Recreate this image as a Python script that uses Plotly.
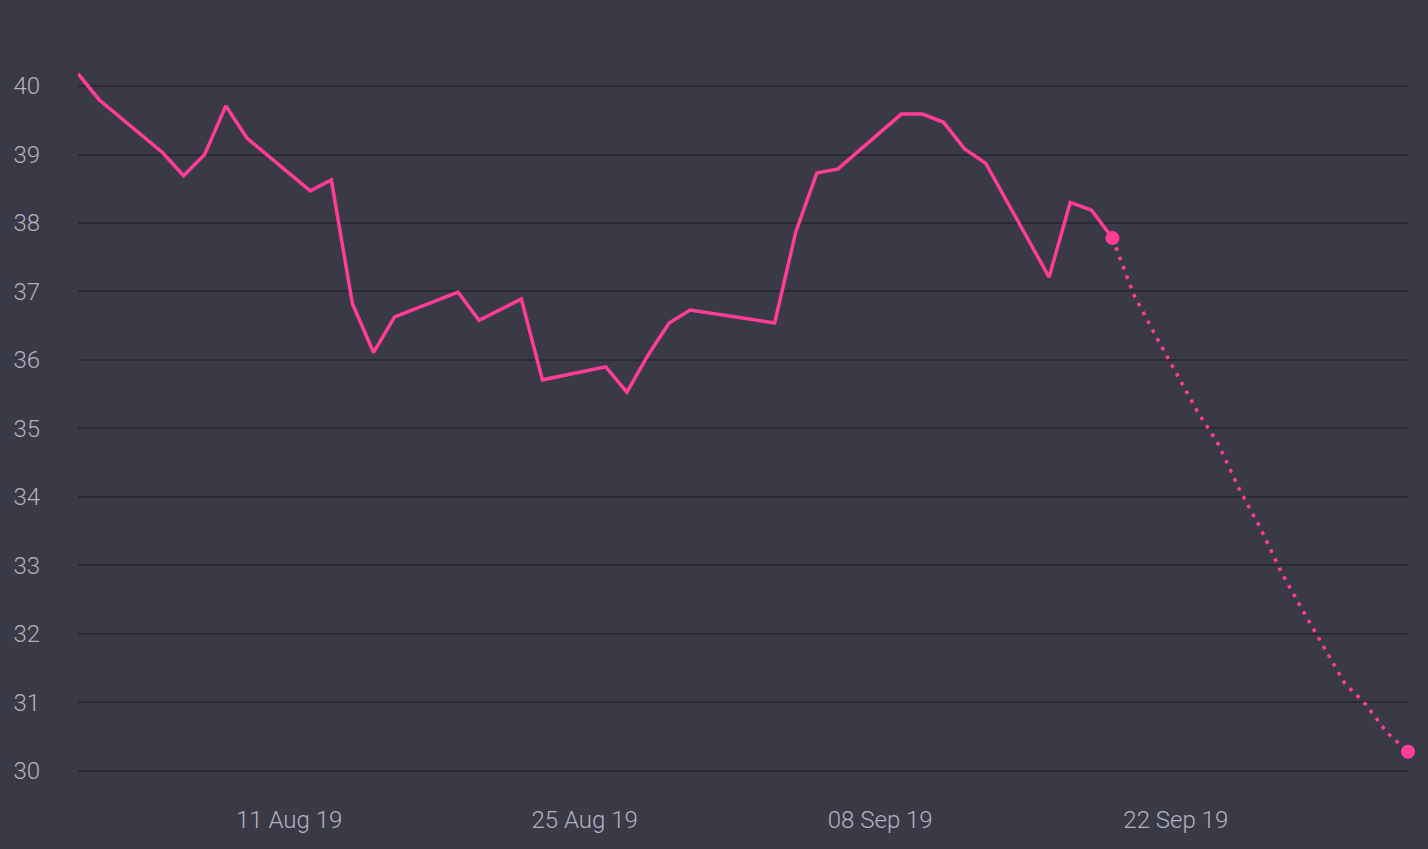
import plotly.graph_objects as go

# Observed closing prices (trading days)
dates = ['2019-08-01', '2019-08-02', '2019-08-05', '2019-08-06', '2019-08-07',
         '2019-08-08', '2019-08-09', '2019-08-12', '2019-08-13', '2019-08-14',
         '2019-08-15', '2019-08-16', '2019-08-19', '2019-08-20', '2019-08-22',
         '2019-08-23', '2019-08-26', '2019-08-27', '2019-08-28', '2019-08-29',
         '2019-08-30', '2019-09-03', '2019-09-04', '2019-09-05', '2019-09-06',
         '2019-09-09', '2019-09-10', '2019-09-11', '2019-09-12', '2019-09-13',
         '2019-09-16', '2019-09-17', '2019-09-18', '2019-09-19']
prices = [40.18, 39.80, 39.03, 38.69, 39.00,
          39.71, 39.24, 38.47, 38.63, 36.82,
          36.11, 36.63, 36.99, 36.58, 36.89,
          35.71, 35.90, 35.53, 36.07, 36.54,
          36.73, 36.54, 37.87, 38.73, 38.79,
          39.59, 39.59, 39.47, 39.08, 38.87,
          37.21, 38.30, 38.19, 37.78]

# Forecast (dotted)
fc_dates = ['2019-09-19', '2019-09-20', '2019-09-21', '2019-09-22', '2019-09-23',
            '2019-09-24', '2019-09-25', '2019-09-26', '2019-09-27', '2019-09-28',
            '2019-09-29', '2019-09-30', '2019-10-01', '2019-10-02', '2019-10-03']
fc_prices = [37.78, 36.96, 36.38, 35.82, 35.26,
             34.78, 34.12, 33.55, 32.90, 32.35,
             31.81, 31.28, 30.97, 30.56, 30.28]

pink = '#ff3d97'
bg = '#3a3946'
font = dict(family='Roboto, sans-serif', weight=300,
            size=24, color='#b3b2c2')

fig = go.Figure()

fig.add_trace(go.Scatter(x=dates, y=prices, mode='lines',
                         line=dict(color=pink, width=3.5),
                         hoverinfo='skip', showlegend=False))

fig.add_trace(go.Scatter(x=fc_dates, y=fc_prices, mode='lines',
                         line=dict(color=pink, width=3.5, dash='3.5px,6.5px'),
                         hoverinfo='skip', showlegend=False))

# end markers
fig.add_trace(go.Scatter(x=[fc_dates[0], fc_dates[-1]], y=[fc_prices[0], fc_prices[-1]],
                         mode='markers', marker=dict(color=pink, size=14),
                         hoverinfo='skip', showlegend=False, cliponaxis=False))

fig.update_layout(
    width=1428, height=849,
    paper_bgcolor=bg, plot_bgcolor=bg,
    margin=dict(l=78, r=20, t=60, b=61),
    font=font,
    xaxis=dict(
        type='date',
        range=['2019-08-01', '2019-10-03'],
        tick0='2019-08-11', dtick=14 * 86400000,
        tickformat='%d %b %y',
        showgrid=False, zeroline=False, showline=False,
        ticks='', ticklabelstandoff=15,
    ),
    yaxis=dict(
        range=[29.75, 40.38],
        tickvals=list(range(30, 41)),
        showgrid=True, gridcolor='#2a2a34', gridwidth=2,
        zeroline=False, showline=False,
        ticks='', ticklabelstandoff=37,
    ),
)

# page body has a default margin, drop it so the figure sits flush
fig.write_html("out.html", config={'displayModeBar': False},
               post_script="document.body.style.margin='0';")
